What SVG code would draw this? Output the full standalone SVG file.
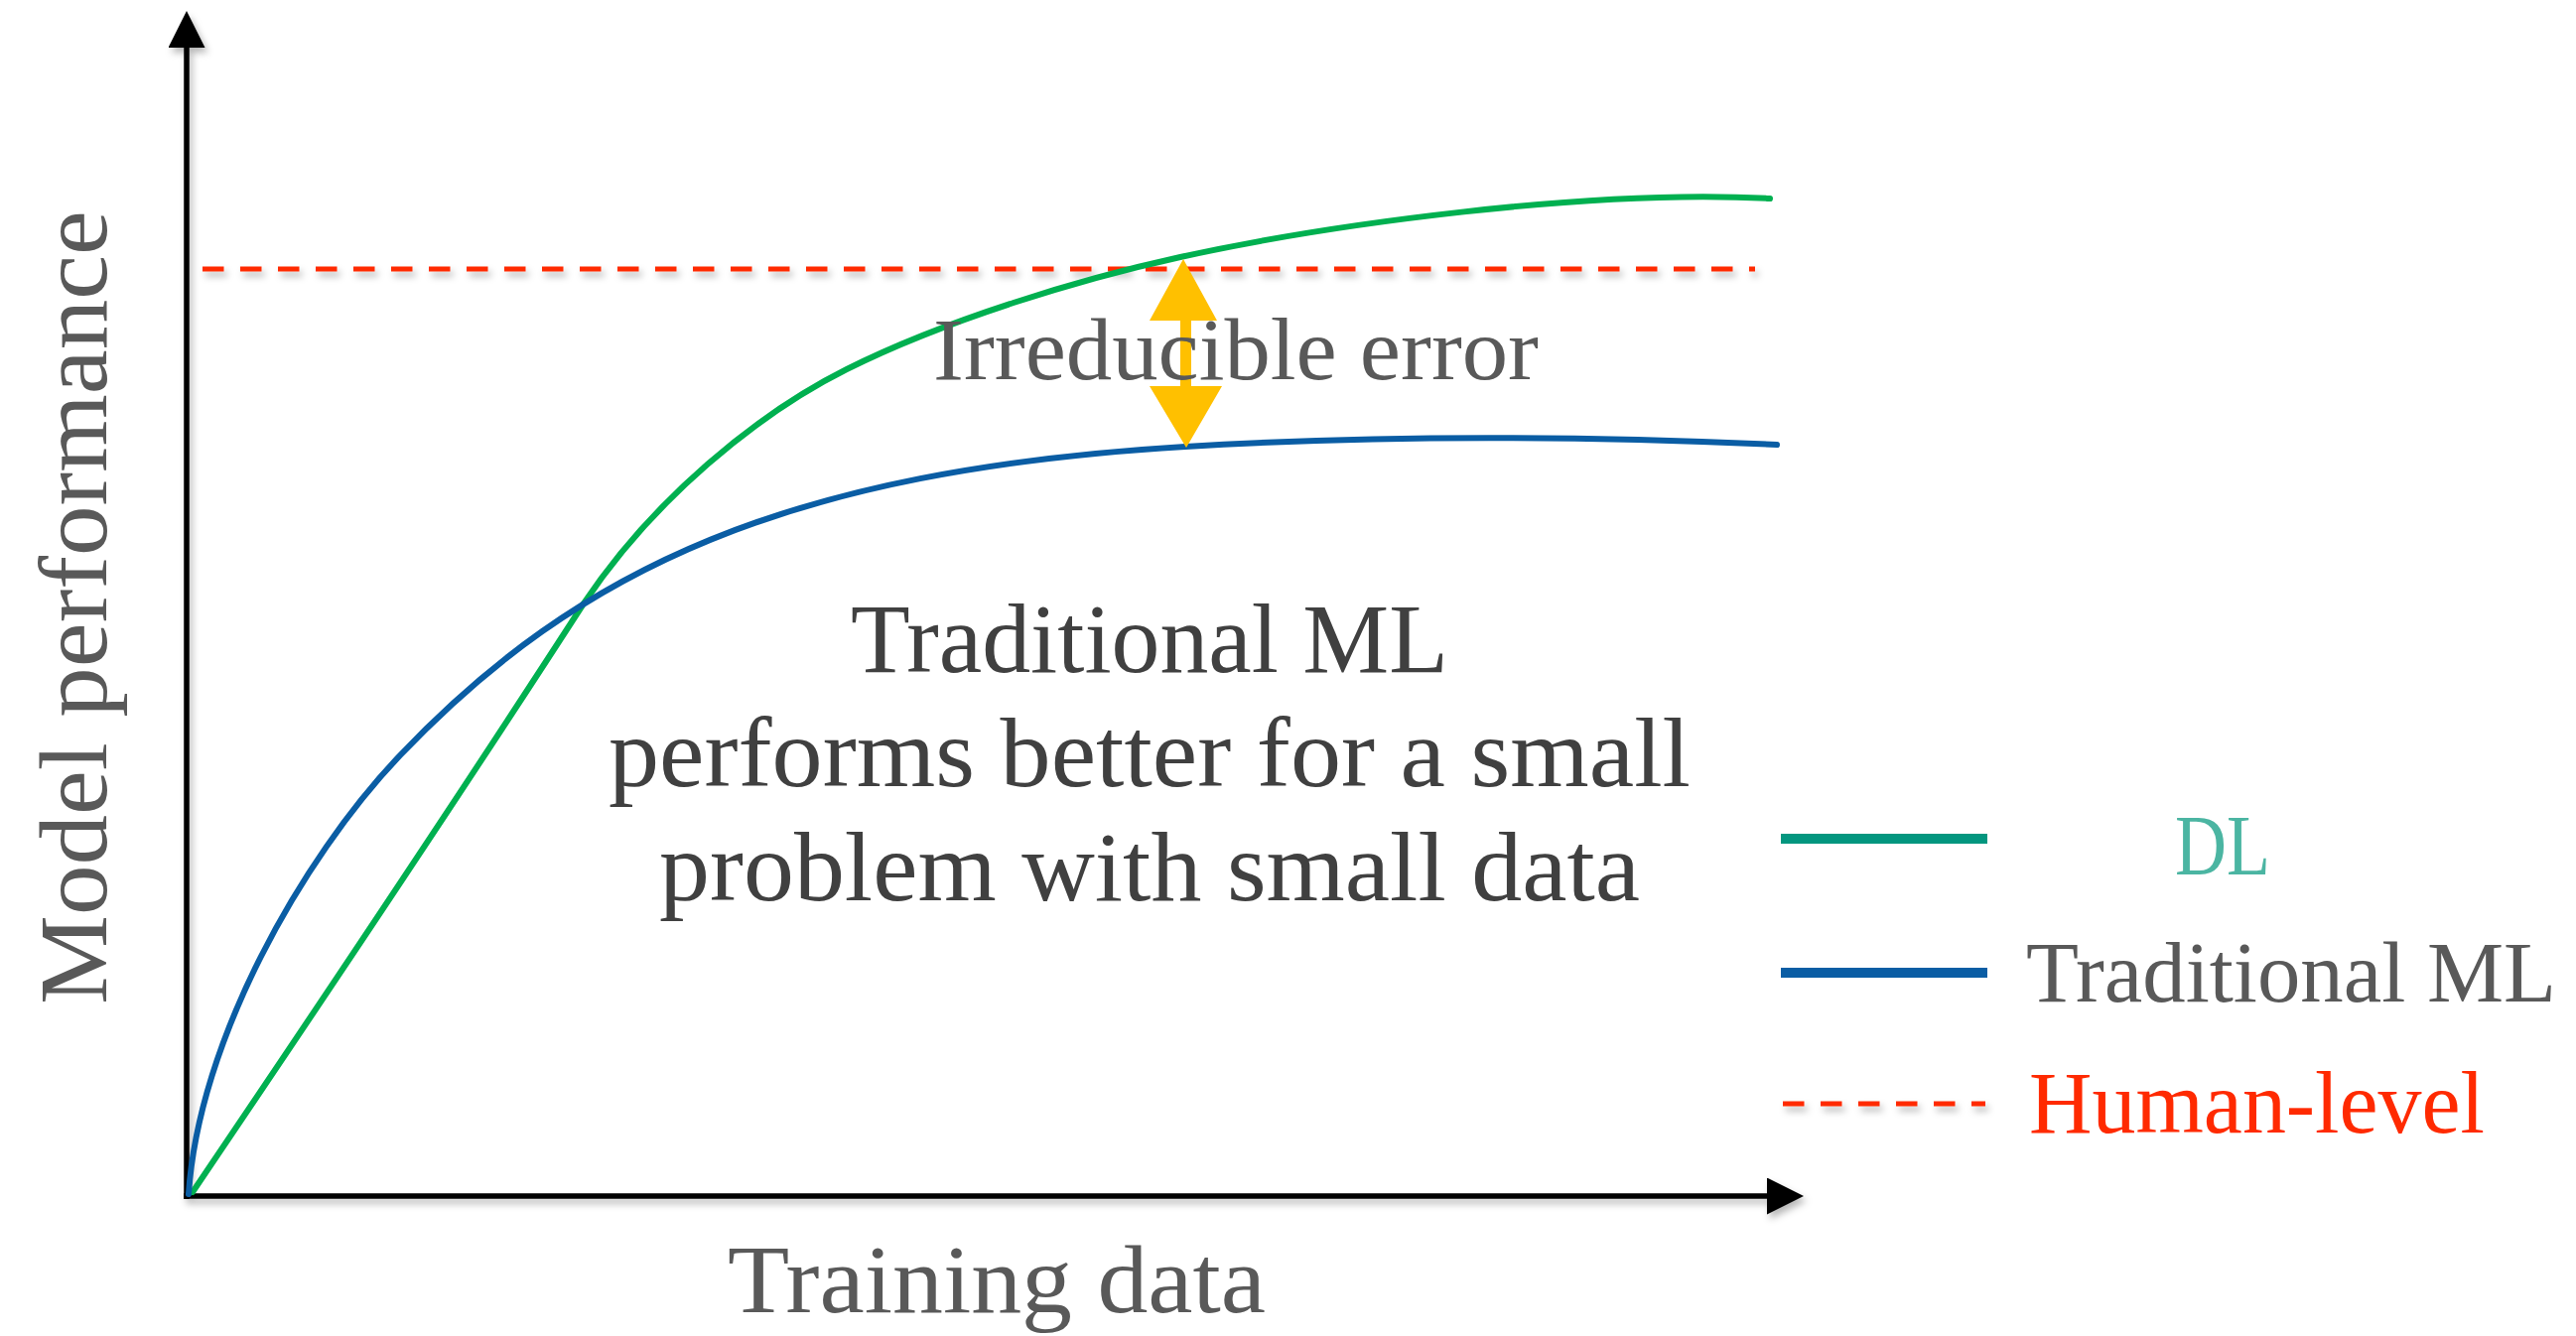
<svg xmlns="http://www.w3.org/2000/svg" width="2595" height="1346" viewBox="0 0 2595 1346">
  <style>
    .lbl { font-family: "Liberation Serif", "Times New Roman", serif; fill: #595959; }
    .main { font-family: "Liberation Serif", "Times New Roman", serif; fill: #404040; font-size: 99px; }
    .axis { stroke: #000; stroke-width: 5.5; fill: none; }
    .dash { stroke: #FF2A00; stroke-width: 5; stroke-dasharray: 21.5 16.5; fill: none; }
    .curve { fill: none; stroke-width: 6; stroke-linecap: round; }
  </style>
  <defs>
    <filter id="shadow" filterUnits="userSpaceOnUse" x="0" y="0" width="2595" height="1346">
      <feDropShadow dx="3" dy="5" stdDeviation="3.5" flood-color="#000" flood-opacity="0.28"/>
    </filter>
    <marker id="arrowhead" markerUnits="userSpaceOnUse" markerWidth="38" markerHeight="38" refX="0" refY="18.5" orient="auto">
      <path d="M0,0 L37,18.5 L0,37 Z" fill="#000"/>
    </marker>
  </defs>
  <rect width="2595" height="1346" fill="#fff"/>

  <g id="connectors">
    <g id="axes" filter="url(#shadow)">
      <line id="y-axis" class="axis" x1="188" y1="1208" x2="188" y2="48" marker-end="url(#arrowhead)"/>
      <line id="x-axis" class="axis" x1="185" y1="1205" x2="1780" y2="1205" marker-end="url(#arrowhead)"/>
    </g>
    <line id="human-level-line" class="dash" x1="204" y1="271" x2="1768" y2="271" filter="url(#shadow)"/>
    <path id="dl-curve" class="curve" stroke="#00B050" d="M194,1201 C330,1000 480,775 588,608 C658,503 763,417 853,372 C953,322 1089,281 1189,259 C1339,226 1603,190 1783,200"/>
    <path id="ml-curve" class="curve" stroke="#0A5DA4" d="M190,1203 C200,1050 303,866 403,761 C583,572 794,474 1194,450 C1394,438 1590,439 1790,448"/>
    <path id="error-arrow" fill="#FFC000" d="M1192,261 L1226,323 L1200,323 L1200,389 L1231,389 L1195,451 L1158,389 L1189,389 L1189,323 L1158,323 Z"/>
  </g>

  <g id="axis-labels">
    <text class="lbl" font-size="97" transform="translate(107,1012) rotate(-90)" x="0" y="0" textLength="800" lengthAdjust="spacingAndGlyphs">Model performance</text>
    <text class="lbl" font-size="97" x="733" y="1322" textLength="542" lengthAdjust="spacingAndGlyphs">Training data</text>
  </g>

  <g id="irreducible-label">
    <text class="lbl" font-size="88" x="940" y="382" textLength="610" lengthAdjust="spacingAndGlyphs">Irreducible error</text>
  </g>

  <g id="main-note">
    <text class="main" x="857" y="677" textLength="602" lengthAdjust="spacingAndGlyphs">Traditional ML</text>
    <text class="main" x="613" y="792" textLength="1090" lengthAdjust="spacingAndGlyphs">performs better for a small</text>
    <text class="main" x="664" y="907" textLength="988" lengthAdjust="spacingAndGlyphs">problem with small data</text>
  </g>

  <g id="legend">
    <g id="legend-dl">
      <line x1="1794" y1="845" x2="2002" y2="845" stroke="#03967F" stroke-width="10"/>
      <text font-family="Liberation Serif, Times New Roman, serif" font-size="86" fill="#4BB5A2" x="2191" y="881" textLength="96" lengthAdjust="spacingAndGlyphs">DL</text>
    </g>
    <g id="legend-ml">
      <line x1="1794" y1="980" x2="2002" y2="980" stroke="#0A5DA4" stroke-width="10"/>
      <text class="lbl" font-size="87" x="2041" y="1009" textLength="534" lengthAdjust="spacingAndGlyphs">Traditional ML</text>
    </g>
    <g id="legend-human">
      <line class="dash" x1="1796" y1="1112" x2="2000" y2="1112" filter="url(#shadow)"/>
      <text font-family="Liberation Serif, Times New Roman, serif" font-size="88" fill="#FF2A00" x="2044" y="1141" textLength="459" lengthAdjust="spacingAndGlyphs">Human-level</text>
    </g>
  </g>
</svg>
